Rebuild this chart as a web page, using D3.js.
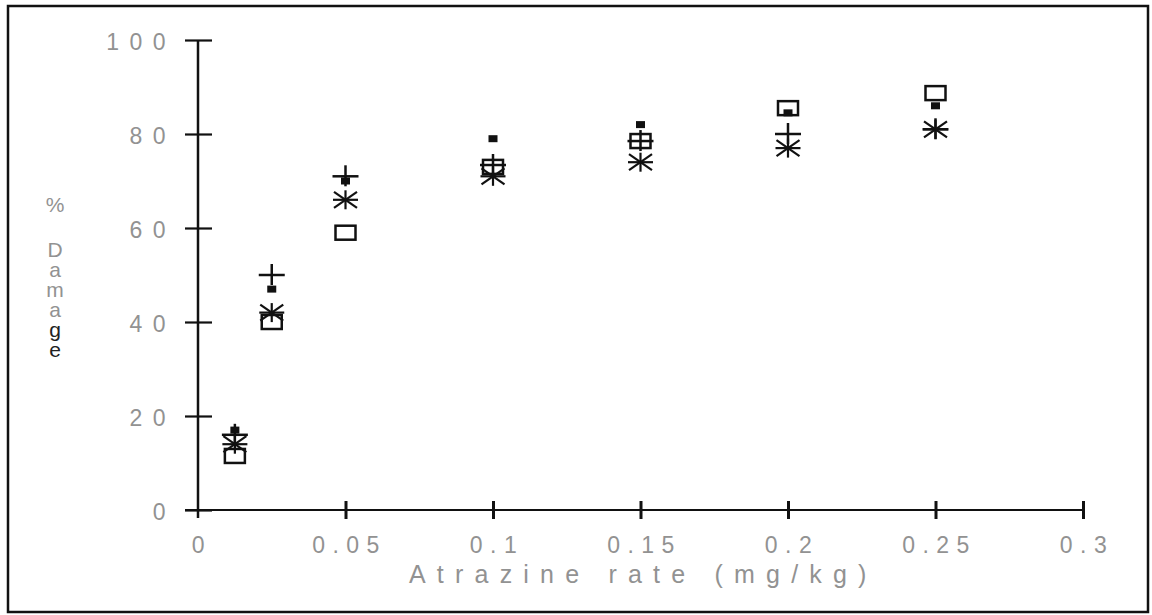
<!DOCTYPE html>
<html>
<head>
<meta charset="utf-8">
<script src="https://cdn.jsdelivr.net/npm/d3@7"></script>
<style>
html,body{margin:0;padding:0;background:#fff;}
svg{display:block;}
</style>
</head>
<body>
<svg id="chart" width="1152" height="615"></svg>
<script>
// ---- data ----
const rates = [0.0125, 0.025, 0.05, 0.1, 0.15, 0.2, 0.25];
const filledSquare = [17, 47, 70, 79, 82, 84.5, 86];
const plusSeries = [16, 50, 71, 73.4, 78.5, 80, 81];
const asteriskSeries = [14, 42, 66, 71, 74, 77, 81];
const openSquare = [11.5, 40, 59, 73, 78.5, 85.5, 88.7];
const xTicks = [0, 0.05, 0.1, 0.15, 0.2, 0.25, 0.3];
const xTickLabels = ["0", "0.05", "0.1", "0.15", "0.2", "0.25", "0.3"];
const yTicks = [0, 20, 40, 60, 80, 100];
const xTitle = "Atrazine rate (mg/kg)";
const yTitleSymbol = "%";
const yTitleWord = "Damage";

const svg = d3.select("#chart");
const x = d3.scaleLinear().domain([0, 0.3]).range([198, 1083]);
const y = d3.scaleLinear().domain([0, 100]).range([510, 40]);

// frame
svg.append("rect").attr("x", 8).attr("y", 6).attr("width", 1140).attr("height", 606)
  .attr("fill", "none").attr("stroke", "#111").attr("stroke-width", 2.5);

const grey = "#929292";
const font = "'Liberation Sans', Arial, sans-serif";

// y axis
const yAxis = d3.axisLeft(y).tickValues(yTicks).tickSize(0).tickFormat("");
const gy = svg.append("g").attr("transform", `translate(${x(0)},0)`).call(yAxis);
gy.select(".domain").remove();
svg.append("line").attr("x1", x(0)).attr("x2", x(0)).attr("y1", y(100)).attr("y2", y(0) + 8)
  .attr("stroke", "#111").attr("stroke-width", 2.5);
gy.selectAll(".tick line").attr("x1", -13).attr("x2", 14).attr("stroke", "#111").attr("stroke-width", 2.2);
gy.selectAll(".tick").append("text")
  .attr("x", -22).attr("y", 9.5)
  .attr("text-anchor", "end")
  .attr("fill", grey)
  .style("font-family", font).style("font-size", "23px").style("letter-spacing", "10.5px")
  .text(d => d);

// x axis
const xAxis = d3.axisBottom(x).tickValues(xTicks).tickSize(0).tickFormat("");
const gx = svg.append("g").attr("transform", `translate(0,${y(0)})`).call(xAxis);
gx.select(".domain").remove();
svg.append("line").attr("x1", x(0) - 13).attr("x2", x(0.3)).attr("y1", y(0)).attr("y2", y(0))
  .attr("stroke", "#111").attr("stroke-width", 2.2);
gx.selectAll(".tick line").attr("y1", -9).attr("y2", 9).attr("stroke", "#111").attr("stroke-width", 3)
  .filter(d => d === 0).remove();
gx.selectAll(".tick").append("text")
  .attr("x", 3.5).attr("y", 43)
  .attr("text-anchor", "middle")
  .attr("fill", grey)
  .style("font-family", font).style("font-size", "23px").style("letter-spacing", "7.5px")
  .text((d, i) => xTickLabels[i]);

// axis titles
svg.append("text").attr("x", 409).attr("y", 583)
  .attr("fill", grey)
  .style("font-family", font).style("font-size", "25px").style("letter-spacing", "11.2px")
  .text(xTitle);

svg.append("text").attr("x", 55).attr("y", 212)
  .attr("text-anchor", "middle")
  .attr("fill", grey)
  .style("font-family", font).style("font-size", "21px")
  .text(yTitleSymbol);

const yt = svg.append("text").attr("x", 55).attr("y", 238)
  .style("writing-mode", "vertical-rl")
  .style("text-orientation", "upright")
  .style("font-family", font).style("font-size", "21px").style("letter-spacing", "-3px");
yt.selectAll("tspan").data(yTitleWord.split("")).join("tspan")
  .attr("fill", (d, i) => i >= 4 ? "#222" : grey)
  .text(d => d);

// markers
const ink = "#111";
function pts(arr) { return rates.map((r, i) => ({ r, v: arr[i] })).filter(d => d.v != null); }

// open squares
svg.append("g").selectAll("rect").data(pts(openSquare)).join("rect")
  .attr("x", d => x(d.r) - 10).attr("y", d => y(d.v) - 7)
  .attr("width", 20).attr("height", 14)
  .attr("fill", "none").attr("stroke", ink).attr("stroke-width", 2.5);

// plus
const gp = svg.append("g").selectAll("g").data(pts(plusSeries)).join("g")
  .attr("transform", d => `translate(${x(d.r)},${y(d.v)})`);
gp.append("line").attr("x1", -13).attr("x2", 13).attr("y1", 0).attr("y2", 0).attr("stroke", ink).attr("stroke-width", 2.5);
gp.append("line").attr("x1", 0).attr("x2", 0).attr("y1", -11).attr("y2", 10).attr("stroke", ink).attr("stroke-width", 2.5);

// asterisk
const ga = svg.append("g").selectAll("g").data(pts(asteriskSeries)).join("g")
  .attr("transform", d => `translate(${x(d.r)},${y(d.v)})`);
ga.append("line").attr("x1", -12.5).attr("x2", 12.5).attr("y1", 0).attr("y2", 0).attr("stroke", ink).attr("stroke-width", 2.2);
ga.append("line").attr("x1", 0).attr("x2", 0).attr("y1", -9.5).attr("y2", 9.5).attr("stroke", ink).attr("stroke-width", 2.2);
ga.append("line").attr("x1", -11.5).attr("x2", 11.5).attr("y1", -8).attr("y2", 8).attr("stroke", ink).attr("stroke-width", 2.2);
ga.append("line").attr("x1", -11.5).attr("x2", 11.5).attr("y1", 8).attr("y2", -8).attr("stroke", ink).attr("stroke-width", 2.2);

// filled small squares
svg.append("g").selectAll("rect").data(pts(filledSquare)).join("rect")
  .attr("x", d => x(d.r) - 4.5).attr("y", d => y(d.v) - 3.5)
  .attr("width", 9).attr("height", 7)
  .attr("fill", ink);
</script>
</body>
</html>
